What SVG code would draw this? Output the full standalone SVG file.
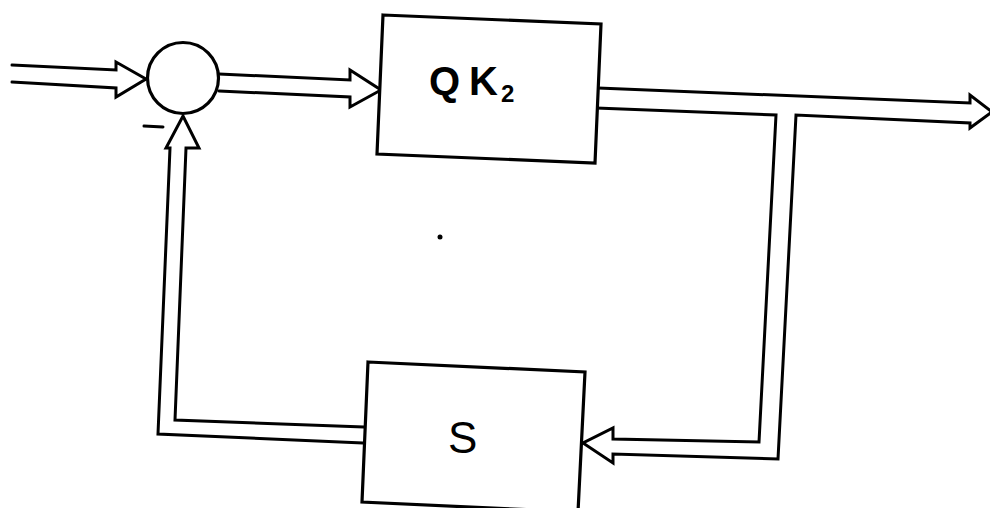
<svg xmlns="http://www.w3.org/2000/svg" width="990" height="508" viewBox="0 0 990 508">
<style>
.ln{fill:none;stroke:#000;stroke-width:3;stroke-linejoin:miter;stroke-linecap:round}
.blk{fill:#fff;stroke:#000;stroke-width:3.2;stroke-linejoin:miter}
.t{font-family:"Liberation Sans",Arial,sans-serif;fill:#000}
</style>
<rect width="990" height="508" fill="#fff"/>
<g id="connectors">
<!-- input arrow -->
<path class="ln" d="M12,65 L116,70 L116,62 L146,79 L116,97 L116,88 L12,82"/>
<!-- sum to QK2 -->
<path class="ln" d="M219,74 L350,80 L350,70 L381,90 L350,107 L350,97 L219,91"/>
<!-- QK2 output with branch -->
<path class="ln" d="M598,88 L970,103 L970,95 L992,112 L970,128 L970,123 L796,115 L778,459 L613,454 L613,463 L583,443 L613,428 L613,439 L759,442 L776,115 L596,108"/>
<!-- feedback from S to sum -->
<path class="ln" d="M364,427 L175,420 L186,148 L199,148 L183,116 L166,148 L170,148 L158,434 L363,443"/>
</g>
<g id="sum">
<circle class="blk" cx="183" cy="78" r="35.5"/>
<path class="ln" d="M144,126 L163,127"/>
</g>
<g id="qk2">
<path class="blk" d="M383,15 L601,24 L595,163 L377,154 Z"/>
<text class="t" x="429" y="95" font-size="40" font-weight="bold">Q</text>
<text class="t" x="469" y="95" font-size="40" font-weight="bold">K</text>
<text class="t" x="501" y="102" font-size="24" font-weight="bold">2</text>
</g>
<g id="s">
<path class="blk" d="M368,362 L585,372 L578,512 L362,502 Z"/>
<text class="t" x="448" y="453" font-size="44">S</text>
</g>
<circle cx="440" cy="237" r="2.5" fill="#000"/>
</svg>
